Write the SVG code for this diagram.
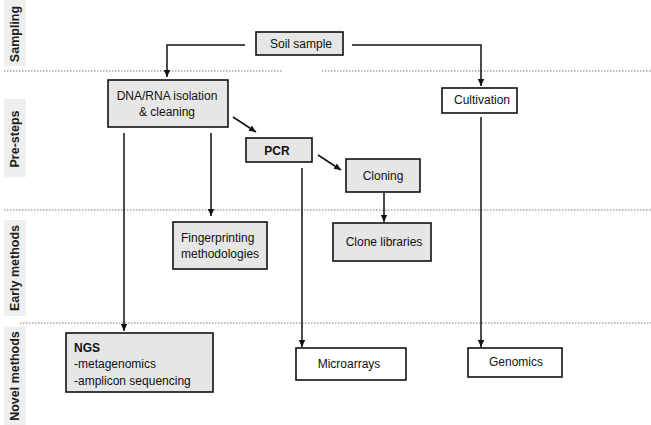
<svg xmlns="http://www.w3.org/2000/svg" width="651" height="425" viewBox="0 0 651 425">
<defs>
<marker id="ah" markerWidth="8" markerHeight="8" refX="7" refY="4" orient="auto" markerUnits="userSpaceOnUse">
<path d="M0,0.8 L7,4 L0,7.2 Z" fill="#111"/>
</marker>
<style>
.tab{fill:#efefef;stroke:none}
.tabt{font-family:"Liberation Sans",Arial,sans-serif;font-size:12.5px;font-weight:bold;fill:#1e1e1e;text-anchor:middle;dominant-baseline:central}
.sep{stroke:#777;stroke-width:1;stroke-dasharray:1.5 1.5;fill:none}
.g{fill:#e6e6e6;stroke:#111;stroke-width:1.6}
.w{fill:#fff;stroke:#111;stroke-width:1.6}
.t{font-family:"Liberation Sans",Arial,sans-serif;font-size:12px;fill:#111;text-anchor:middle;dominant-baseline:central}
.tl{font-family:"Liberation Sans",Arial,sans-serif;font-size:12px;fill:#111;dominant-baseline:central}
.b{font-weight:bold}
.ca{stroke:#111;stroke-width:1.5;fill:none;marker-end:url(#ah)}
</style>
</defs>
<rect width="651" height="425" fill="#fff"/>
<g id="lanes">
<rect class="tab" x="4" y="0" width="22" height="66"/>
<text class="tabt" transform="translate(15,34) rotate(-90)">Sampling</text>
<rect class="tab" x="4" y="99" width="22" height="78"/>
<text class="tabt" transform="translate(15,139) rotate(-90)">Pre-steps</text>
<rect class="tab" x="4" y="220" width="22" height="96"/>
<text class="tabt" transform="translate(15,268) rotate(-90)">Early methods</text>
<rect class="tab" x="4" y="327" width="22" height="98"/>
<text class="tabt" transform="translate(15,376) rotate(-90)">Novel methods</text>
<line class="sep" x1="4" y1="71" x2="283" y2="71"/>
<line class="sep" x1="322" y1="71" x2="651" y2="71"/>
<line class="sep" x1="4" y1="210" x2="651" y2="210"/>
<line class="sep" x1="20" y1="323" x2="651" y2="323"/>
</g>
<g id="connectors">
<polyline class="ca" points="245,45 167,45 167,77"/>
<polyline class="ca" points="352,45 481,45 481,86"/>
<line class="ca" x1="233" y1="117" x2="256" y2="132"/>
<line class="ca" x1="318" y1="155" x2="341" y2="170"/>
<line class="ca" x1="124" y1="133" x2="124" y2="331"/>
<line class="ca" x1="211" y1="133" x2="211" y2="216"/>
<line class="ca" x1="302" y1="168" x2="302" y2="347"/>
<line class="ca" x1="384" y1="193" x2="384" y2="222"/>
<line class="ca" x1="481" y1="117" x2="481" y2="347"/>
</g>
<g id="soil">
<rect class="g" x="256" y="32" width="87" height="23"/>
<text class="t" x="301" y="44">Soil sample</text>
</g>
<g id="dna">
<rect class="g" x="108" y="80" width="120" height="47"/>
<text class="t" x="167" y="96">DNA/RNA isolation</text>
<text class="t" x="167" y="112">&amp; cleaning</text>
</g>
<g id="cultivation">
<rect class="w" x="442" y="88" width="75" height="25"/>
<text class="t" x="482" y="100">Cultivation</text>
</g>
<g id="pcr">
<rect class="g" x="246" y="138" width="66" height="24"/>
<text class="t b" x="277" y="151">PCR</text>
</g>
<g id="cloning">
<rect class="g" x="346" y="159" width="74" height="33"/>
<text class="t" x="383" y="176">Cloning</text>
</g>
<g id="fingerprinting">
<rect class="g" x="173" y="222" width="94" height="47"/>
<text class="tl" x="181" y="238">Fingerprinting</text>
<text class="tl" x="181" y="254">methodologies</text>
</g>
<g id="clonelib">
<rect class="g" x="333" y="223" width="98" height="38"/>
<text class="t" x="384" y="242">Clone libraries</text>
</g>
<g id="ngs">
<rect class="g" x="66" y="333" width="147" height="59"/>
<text class="tl b" x="74" y="348">NGS</text>
<text class="tl" x="74" y="364">-metagenomics</text>
<text class="tl" x="74" y="381">-amplicon sequencing</text>
</g>
<g id="microarrays">
<rect class="w" x="296" y="348" width="110" height="32"/>
<text class="t" x="349" y="364">Microarrays</text>
</g>
<g id="genomics">
<rect class="w" x="468" y="348" width="94" height="29"/>
<text class="t" x="516" y="362">Genomics</text>
</g>
</svg>
